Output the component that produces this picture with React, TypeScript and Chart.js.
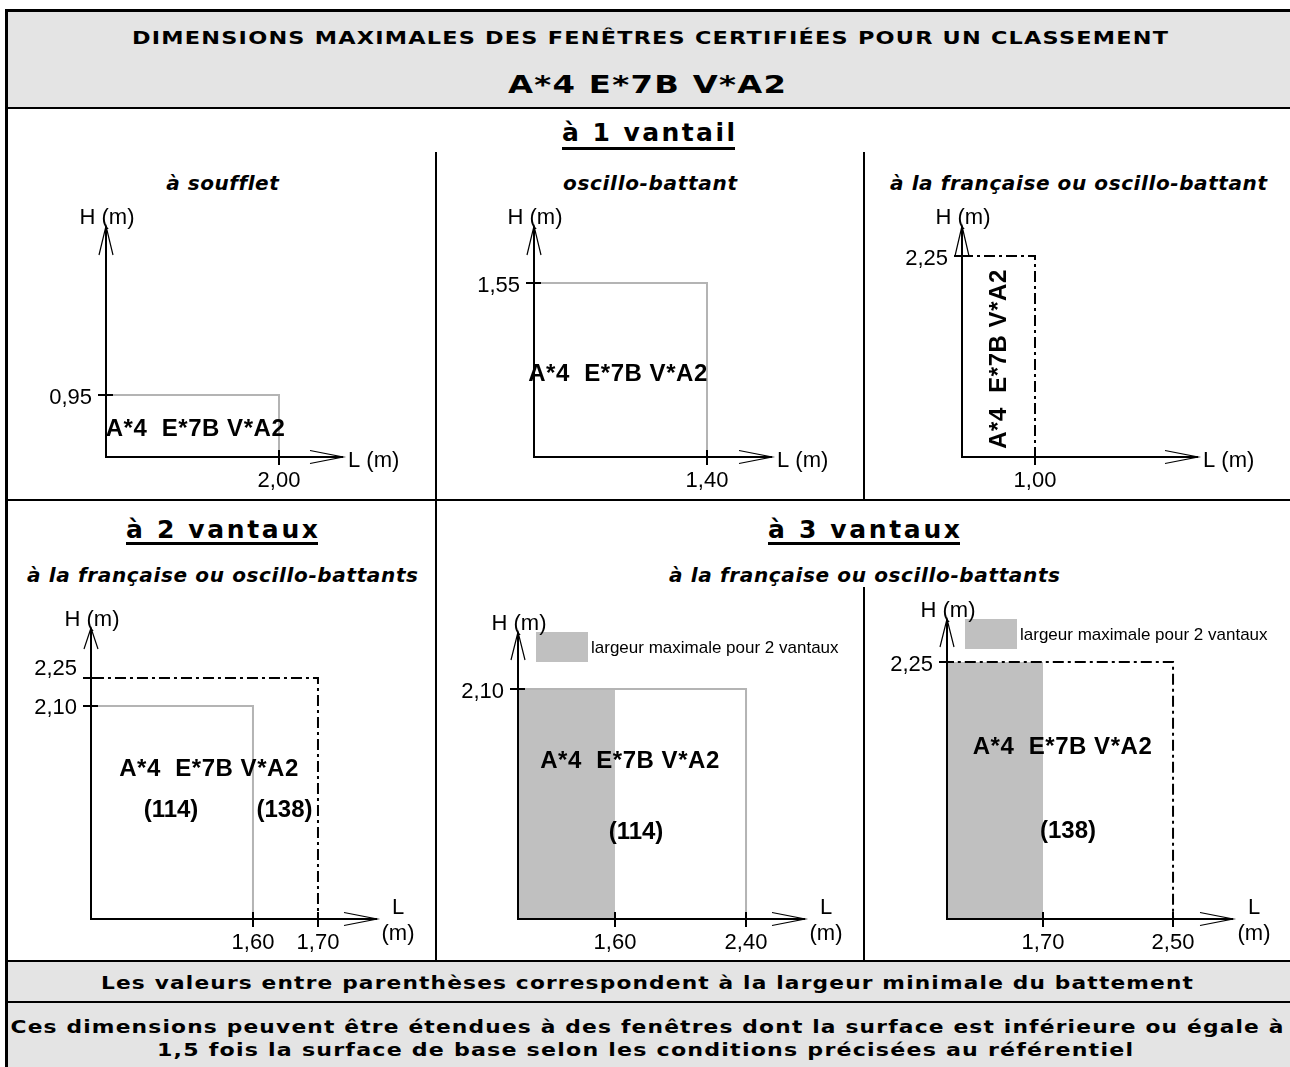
import React, { useEffect, useRef } from 'react';
import { Chart, registerables } from 'chart.js';

Chart.register(...registerables);

// ---------------- Data ----------------
const titleLine1 = 'DIMENSIONS MAXIMALES DES FENÊTRES CERTIFIÉES POUR UN CLASSEMENT';
const classement = 'A*4 E*7B V*A2';
const classementMark = 'A*4  E*7B V*A2';
const groupTitles = ['à 1 vantail', 'à 2 vantaux', 'à 3 vantaux'];
const panelSubtitles = [
  'à soufflet',
  'oscillo-battant',
  'à la française ou oscillo-battant',
  'à la française ou oscillo-battants',
  'à la française ou oscillo-battants',
];
const footnotes = [
  'Les valeurs entre parenthèses correspondent à la largeur minimale du battement',
  'Ces dimensions peuvent être étendues à des fenêtres dont la surface est inférieure ou égale à',
  '1,5 fois la surface de base selon les conditions précisées au référentiel',
];
const axisTitleH = 'H (m)';
const axisTitleL = 'L (m)';
const axisTitleLShort = 'L';
const axisTitleUnit = '(m)';
const legendLabel = 'largeur maximale pour 2 vantaux';

// widths L (m) and heights H (m)
const souffletL = [2.0];
const souffletH = [0.95];
const oscilloL = [1.4];
const oscilloH = [1.55];
const francaiseL = [1.0];
const francaiseH = [2.25];
const deuxVantauxL = [1.6, 1.7];
const deuxVantauxH = [2.1, 2.25];
const deuxVantauxBattement = [114, 138];
const troisVantaux114L = [1.6, 2.4];
const troisVantaux114H = [2.1];
const troisVantaux138L = [1.7, 2.5];
const troisVantaux138H = [2.25];
const troisVantauxBattement = [114, 138];

// ---------------- Styling helpers ----------------
const FAMILY = "'Liberation Sans', Arial, Helvetica, sans-serif";
const FAMILY_H = "'DejaVu Sans', Verdana, sans-serif";
let measureCtx: CanvasRenderingContext2D | null = null;
function measure(text: string, font: string): number {
  if (!measureCtx) measureCtx = document.createElement('canvas').getContext('2d');
  const c = measureCtx as any;
  c.font = font;
  c.letterSpacing = '0px';
  return c.measureText(text).width;
}
function fitSpacing(text: string, font: string, target: number): number {
  const w = measure(text, font);
  const n = Array.from(text).length;
  return n > 1 ? (target - w) / (n - 1) : 0;
}
const fmt = (v: number) => v.toFixed(2).replace('.', ',');

type RectSpec = { w: number; h: number; kind: 'gray' | 'dash' | 'fill' };
type TextSpec = { t: string; dx: number; dy: number; rotate?: boolean; fit?: number };
type PanelSpec = {
  box: { left: number; top: number; width: number; height: number };
  origin: [number, number];
  tip: [number, number];
  xRange: [number, number];
  yRange: [number, number];
  rects: RectSpec[];
  xTicks: number[];
  yTicks: number[];
  yLabelShift: number[];
  xTitle: 'inline' | 'stacked';
  arrowY: number;
  legend?: boolean;
  texts: TextSpec[];
};

const MARK_W = 179;

const panels: PanelSpec[] = [
  {
    box: { left: 9, top: 195, width: 426, height: 300 },
    origin: [106, 457], tip: [343, 226],
    xRange: [0, 2.74], yRange: [0, 3.54],
    rects: [{ w: souffletL[0], h: souffletH[0], kind: 'gray' }],
    xTicks: souffletL, yTicks: souffletH, yLabelShift: [0],
    xTitle: 'inline', arrowY: 29,
    texts: [{ t: classementMark, dx: 89.5, dy: -30, fit: MARK_W }],
  },
  {
    box: { left: 438, top: 195, width: 424, height: 300 },
    origin: [534, 457], tip: [772, 226],
    xRange: [0, 1.926], yRange: [0, 2.058],
    rects: [{ w: oscilloL[0], h: oscilloH[0], kind: 'gray' }],
    xTicks: oscilloL, yTicks: oscilloH, yLabelShift: [0],
    xTitle: 'inline', arrowY: 29,
    texts: [{ t: classementMark, dx: 84, dy: -85, fit: MARK_W }],
  },
  {
    box: { left: 866, top: 195, width: 424, height: 300 },
    origin: [962, 457], tip: [1198, 226],
    xRange: [0, 3.233], yRange: [0, 2.586],
    rects: [{ w: francaiseL[0], h: francaiseH[0], kind: 'dash' }],
    xTicks: francaiseL, yTicks: francaiseH, yLabelShift: [0],
    xTitle: 'inline', arrowY: 30,
    texts: [{ t: classementMark, dx: 35, dy: -98, rotate: true, fit: MARK_W }],
  },
  {
    box: { left: 9, top: 590, width: 425, height: 368 },
    origin: [91, 919], tip: [377, 628],
    xRange: [1.3508, 1.7908], yRange: [0.959, 2.518],
    rects: [
      { w: deuxVantauxL[0], h: deuxVantauxH[0], kind: 'gray' },
      { w: deuxVantauxL[1], h: deuxVantauxH[1], kind: 'dash' },
    ],
    xTicks: deuxVantauxL, yTicks: deuxVantauxH, yLabelShift: [-1, -12],
    xTitle: 'stacked', arrowY: 21,
    texts: [
      { t: classementMark, dx: 118, dy: -152, fit: MARK_W },
      { t: `(${deuxVantauxBattement[0]})`, dx: 80, dy: -111 },
      { t: `(${deuxVantauxBattement[1]})`, dx: 193.5, dy: -111 },
    ],
  },
  {
    box: { left: 438, top: 590, width: 424, height: 368 },
    origin: [518, 919], tip: [805, 632],
    xRange: [1.008, 2.76], yRange: [0, 2.621],
    rects: [
      { w: troisVantaux114L[0], h: troisVantaux114H[0], kind: 'fill' },
      { w: troisVantaux114L[1], h: troisVantaux114H[0], kind: 'gray' },
    ],
    xTicks: troisVantaux114L, yTicks: troisVantaux114H, yLabelShift: [0],
    xTitle: 'stacked', arrowY: 28, legend: true,
    texts: [
      { t: classementMark, dx: 112, dy: -160, fit: MARK_W },
      { t: `(${troisVantauxBattement[0]})`, dx: 118, dy: -89 },
    ],
  },
  {
    box: { left: 866, top: 590, width: 424, height: 368 },
    origin: [947, 919], tip: [1233, 619],
    xRange: [1.109, 2.869], yRange: [0, 2.627],
    rects: [
      { w: troisVantaux138L[0], h: troisVantaux138H[0], kind: 'fill' },
      { w: troisVantaux138L[1], h: troisVantaux138H[0], kind: 'dash' },
    ],
    xTicks: troisVantaux138L, yTicks: troisVantaux138H, yLabelShift: [0],
    xTitle: 'stacked', arrowY: 28, legend: true,
    texts: [
      { t: classementMark, dx: 115.5, dy: -174, fit: MARK_W },
      { t: `(${troisVantauxBattement[1]})`, dx: 121, dy: -90 },
    ],
  },
];

function rectDataset(r: RectSpec) {
  if (r.kind === 'fill') {
    return {
      data: [{ x: 0, y: r.h }, { x: r.w, y: r.h }],
      fill: 'origin',
      backgroundColor: '#c0c0c0',
      borderColor: 'rgba(0,0,0,0)',
      borderWidth: 0,
      pointRadius: 0,
      tension: 0,
      order: 3,
    };
  }
  return {
    data: [{ x: 0, y: r.h }, { x: r.w, y: r.h }, { x: r.w, y: 0 }],
    fill: false,
    borderColor: r.kind === 'gray' ? '#b4b4b4' : '#000000',
    borderWidth: 2,
    borderDash: r.kind === 'dash' ? [11, 4, 3, 4] : [],
    borderCapStyle: 'butt',
    borderJoinStyle: 'miter',
    pointRadius: 0,
    tension: 0,
    order: r.kind === 'gray' ? 2 : 1,
  };
}

function makeOverlay(p: PanelSpec) {
  return {
    id: 'windowOverlay',
    afterDatasetsDraw(chart: any) {
      const ctx = chart.ctx as any;
      const a = chart.chartArea;
      const xs = chart.scales.x;
      const ys = chart.scales.y;
      const ox = Math.round(a.left);
      const oy = Math.round(a.bottom);
      const tx = Math.round(a.right);
      const ty = Math.round(a.top);
      ctx.save();
      ctx.setLineDash([]);
      ctx.strokeStyle = '#000';
      ctx.fillStyle = '#000';
      ctx.lineCap = 'butt';
      const seg = (pts: number[][], w: number) => {
        ctx.lineWidth = w;
        ctx.beginPath();
        pts.forEach(([x, y], i) => (i ? ctx.lineTo(x, y) : ctx.moveTo(x, y)));
        ctx.stroke();
      };
      const text = (t: string, x: number, y: number, size: number, align: string, weight = 'normal', ls = 0) => {
        ctx.font = `${weight} ${size}px ${FAMILY}`;
        ctx.letterSpacing = `${ls}px`;
        ctx.textAlign = align;
        ctx.textBaseline = 'alphabetic';
        ctx.fillText(t, x, y + 0.358 * size);
        ctx.letterSpacing = '0px';
      };

      // legend swatch
      if (p.legend) {
        ctx.fillStyle = '#c0c0c0';
        ctx.fillRect(ox + 18, ty, 52, 30);
        ctx.fillStyle = '#000';
        text(legendLabel, ox + 73, ty + 15, 17, 'left');
      }

      // axes with open arrow heads
      seg([[ox, oy + 1], [ox, ty]], 2);
      seg([[ox - 1, oy], [tx, oy]], 2);
      seg([[ox - 7, ty + p.arrowY], [ox, ty], [ox + 7, ty + p.arrowY]], 1.2);
      seg([[tx - 33, oy - 6.5], [tx, oy], [tx - 33, oy + 6.5]], 1.2);

      // ticks + labels
      p.xTicks.forEach((v) => {
        const px = Math.round(xs.getPixelForValue(v));
        seg([[px, oy - 7], [px, oy + 8]], 2);
        text(fmt(v), px, oy + 22, 22, 'center');
      });
      p.yTicks.forEach((v, i) => {
        const py = Math.round(ys.getPixelForValue(v));
        seg([[ox - 8, py], [ox + 7, py]], 2);
        text(fmt(v), ox - 14, py + 1 + (p.yLabelShift[i] || 0), 22, 'right');
      });

      // axis titles
      text(axisTitleH, ox + 1, ty - 10, 22, 'center');
      if (p.xTitle === 'inline') {
        text(axisTitleL, tx + 5, oy + 2, 22, 'left');
      } else {
        text(axisTitleLShort, tx + 21, oy - 13, 22, 'center');
        text(axisTitleUnit, tx + 21, oy + 13, 22, 'center');
      }

      // classification marks
      p.texts.forEach((tt) => {
        const font = `bold 24px ${FAMILY}`;
        const ls = tt.fit ? fitSpacing(tt.t, font, tt.fit) : 0;
        const cx = ox + tt.dx;
        const cy = oy + tt.dy;
        if (tt.rotate) {
          ctx.save();
          ctx.translate(cx, cy);
          ctx.rotate(-Math.PI / 2);
          text(tt.t, 0, 0, 24, 'center', 'bold', ls);
          ctx.restore();
        } else {
          text(tt.t, cx, cy, 24, 'center', 'bold', ls);
        }
      });
      ctx.restore();
    },
  };
}

function Panel({ p }: { p: PanelSpec }) {
  const ref = useRef<HTMLCanvasElement>(null);
  useEffect(() => {
    if (!ref.current) return;
    const b = p.box;
    const chart = new Chart(ref.current, {
      type: 'line',
      data: { datasets: p.rects.map(rectDataset) as any },
      options: {
        animation: false,
        responsive: false,
        maintainAspectRatio: false,
        events: [],
        layout: {
          padding: {
            left: p.origin[0] - b.left,
            right: b.left + b.width - p.tip[0],
            top: p.tip[1] - b.top,
            bottom: b.top + b.height - p.origin[1],
          },
        },
        scales: {
          x: { type: 'linear', min: p.xRange[0], max: p.xRange[1], display: false },
          y: { type: 'linear', min: p.yRange[0], max: p.yRange[1], display: false },
        },
        plugins: { legend: { display: false }, tooltip: { enabled: false } },
      } as any,
      plugins: [makeOverlay(p) as any],
    });
    return () => chart.destroy();
  }, [p]);
  const b = p.box;
  return (
    <canvas
      ref={ref}
      width={b.width}
      height={b.height}
      style={{ position: 'absolute', left: b.left, top: b.top, width: b.width, height: b.height }}
    />
  );
}

function Label(props: {
  text: string; cx: number; base: number; size: number; width?: number; italic?: boolean; stretch?: boolean;
}) {
  const { text, cx, base, size, width, italic, stretch } = props;
  const font = `${italic ? 'italic ' : ''}bold ${size}px ${FAMILY_H}`;
  let ls = 0;
  let sx = 1;
  if (width && stretch) {
    ls = 1;
    const n = Array.from(text).length;
    sx = width / (measure(text, font) + (n - 1) * ls);
  } else if (width) {
    ls = fitSpacing(text, font, width);
  }
  return (
    <div
      style={{
        position: 'absolute',
        left: cx - 800,
        width: 1600,
        top: base - 0.846 * size,
        height: size,
        lineHeight: `${size}px`,
        fontSize: size,
        fontWeight: 'bold',
        fontStyle: italic ? 'italic' : 'normal',
        fontFamily: FAMILY_H,
        letterSpacing: `${ls}px`,
        paddingLeft: ls,
        boxSizing: 'border-box',
        textAlign: 'center',
        whiteSpace: 'nowrap',
        color: '#000',
        transform: sx !== 1 ? `scaleX(${sx})` : undefined,
        transformOrigin: '50% 50%',
      }}
    >
      {text}
    </div>
  );
}

const rules = [
  { l: 5, t: 9, w: 1285, h: 3 },
  { l: 5, t: 9, w: 3, h: 1058 },
  { l: 8, t: 107, w: 1282, h: 2 },
  { l: 435, t: 152, w: 2, h: 349 },
  { l: 863, t: 152, w: 2, h: 349 },
  { l: 8, t: 499, w: 1282, h: 2 },
  { l: 435, t: 501, w: 2, h: 461 },
  { l: 863, t: 587, w: 2, h: 375 },
  { l: 8, t: 960, w: 1282, h: 2 },
  { l: 8, t: 1001, w: 1282, h: 2 },
];

const groupLayout = [
  { cx: 648.5, base: 141.5, w: 173, ul: 147 },
  { cx: 222, base: 538, w: 192, ul: 541.5 },
  { cx: 864, base: 538, w: 192, ul: 541.5 },
];
const subtitleLayout = [
  { cx: 222.5, base: 190, w: 111 },
  { cx: 650, base: 190, w: 174 },
  { cx: 1078.5, base: 190, w: 377 },
  { cx: 222.5, base: 582, w: 391 },
  { cx: 864.5, base: 582, w: 391 },
];
const footLayout = [
  { cx: 647, base: 990, w: 1092 },
  { cx: 646.5, base: 1034, w: 1273 },
  { cx: 645, base: 1057, w: 976 },
];

export default function App() {
  return (
    <div
      style={{
        position: 'absolute',
        left: 0,
        top: 0,
        width: 1290,
        height: 1067,
        overflow: 'hidden',
        background: '#ffffff',
        fontFamily: FAMILY,
      }}
    >
      <div style={{ position: 'absolute', left: 8, top: 12, width: 1282, height: 95, background: '#e4e4e4' }} />
      <div style={{ position: 'absolute', left: 8, top: 962, width: 1282, height: 105, background: '#e4e4e4' }} />
      {rules.map((r, i) => (
        <div key={i} style={{ position: 'absolute', left: r.l, top: r.t, width: r.w, height: r.h, background: '#000' }} />
      ))}
      <Label text={titleLine1} cx={650} base={45} size={18.5} width={1036} stretch />
      <Label text={classement} cx={647} base={93} size={25} width={278} stretch />
      {groupTitles.map((g, i) => (
        <React.Fragment key={g}>
          <Label text={g} cx={groupLayout[i].cx} base={groupLayout[i].base} size={25} width={groupLayout[i].w} />
          <div
            style={{
              position: 'absolute',
              left: groupLayout[i].cx - groupLayout[i].w / 2,
              top: groupLayout[i].ul,
              width: groupLayout[i].w,
              height: 3,
              background: '#000',
            }}
          />
        </React.Fragment>
      ))}
      {panelSubtitles.map((s, i) => (
        <Label key={i} text={s} cx={subtitleLayout[i].cx} base={subtitleLayout[i].base} size={20} width={subtitleLayout[i].w} italic />
      ))}
      {footnotes.map((f, i) => (
        <Label key={i} text={f} cx={footLayout[i].cx} base={footLayout[i].base} size={18.5} width={footLayout[i].w} stretch />
      ))}
      {panels.map((p, i) => (
        <Panel key={i} p={p} />
      ))}
    </div>
  );
}
